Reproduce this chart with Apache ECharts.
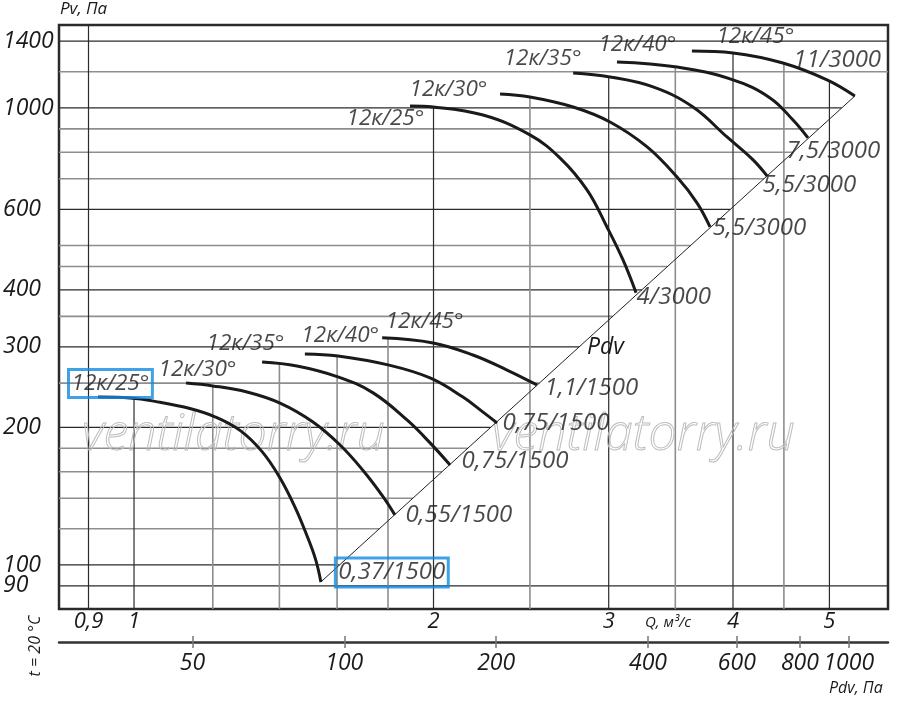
<!DOCTYPE html>
<html lang="ru">
<head>
<meta charset="UTF-8">
<title>12к — аэродинамические характеристики</title>
<script src="https://cdn.jsdelivr.net/npm/echarts@6/dist/echarts.min.js"></script>
<style>
  html, body { margin: 0; padding: 0; background: #fff; }
  #chart { width: 900px; height: 709px; }
</style>
</head>
<body>
<div id="chart"></div>
<script>
// кривые: [Q, м3/с ; Pv, Па], 1500 об/мин
const low25 = [[0.920, 233], [0.991, 232], [1.062, 227], [1.138, 220], [1.206, 211], [1.278, 197], [1.345, 177], [1.402, 155], [1.451, 134], [1.492, 116], [1.523, 102.5], [1.541, 91.8]];
const low30 = [[1.128, 250], [1.200, 246.5], [1.299, 239], [1.402, 226], [1.513, 205.5], [1.611, 183], [1.699, 161], [1.780, 141], [1.829, 128.7]];
const low35 = [[1.345, 278], [1.458, 272.5], [1.603, 258], [1.739, 238], [1.881, 207.6], [1.984, 185], [2.078, 165.5]];
const low40 = [[1.485, 289.5], [1.603, 286.6], [1.800, 274], [1.984, 256.6], [2.141, 233], [2.243, 216], [2.317, 204.5]];
const low45 = [[1.776, 314], [1.998, 306], [2.191, 288], [2.371, 267], [2.541, 247.7]];

// 3000 об/мин
const high25 = [[1.894, 1010], [1.998, 1005], [2.243, 965], [2.500, 873], [2.681, 777], [2.853, 662], [2.988, 549], [3.101, 465], [3.196, 394]];
const high30 = [[2.333, 1073], [2.500, 1057], [2.763, 1005], [3.009, 932], [3.279, 822], [3.514, 706], [3.680, 620], [3.793, 549]];
const high35 = [[2.763, 1193], [3.009, 1169], [3.324, 1112], [3.646, 1005], [3.945, 864], [4.190, 770], [4.328, 710]];
const high40 = [[3.058, 1261], [3.514, 1229], [4.000, 1152], [4.358, 1052], [4.596, 941], [4.758, 860]];
const high45 = [[3.637, 1332], [4.000, 1319], [4.490, 1254], [4.972, 1152], [5.303, 1062]];

const curveNames = ['12к/25°', '12к/30°', '12к/35°', '12к/40°', '12к/45°'];
const lowMotors = ['0,37/1500', '0,55/1500', '0,75/1500', '0,75/1500', '1,1/1500'];
const highMotors = ['4/3000', '5,5/3000', '5,5/3000', '7,5/3000', '11/3000'];

// линия Pdv (концы)
const pdvLine = [[1.541, 91.8], [5.303, 1062]];

// оси
const qTicks = [0.9, 1, 2, 3, 4, 5];
const qGrid = [0.9, 1, 1.2, 1.4, 1.6, 1.8, 2, 2.5, 3, 3.5, 4, 4.5, 5];
const pvTicks = [100, 200, 300, 400, 600, 1000, 1400];
const pvTicksLow = [90];
const pvGrid = [90, 100, 120, 140, 160, 180, 200, 250, 300, 350, 400, 450, 500, 600, 700, 800, 900, 1000, 1200, 1400];
const pdvTicks = [50, 100, 200, 400, 600, 800, 1000];

const Q_MIN = 0.8406, Q_MAX = 5.726;
const PV_MIN = 80.1, PV_MAX = 1519;
const PDV_MIN = 27.2, PDV_MAX = 1196;

const lowCurves = [low25, low30, low35, low40, low45];
const highCurves = [high25, high30, high35, high40, high45];
const allCurves = lowCurves.concat(highCurves);

// сдвиги подписей, px
const lowNameOffsets = [[-29, -13], [-27, -13], [-55, -18], [-3, -18], [4, -16]];
const highNameOffsets = [[-63, 13], [-90, -4], [-69, -14], [-18, -17], [25, -14]];
const lowMotorOffsets = [[15, -9], [11, 1], [12, -3], [6, 1], [8, 4]];
const highMotorOffsets = [[1, 5], [3, 2], [-4, 10], [-21, 14], [-61, -35]];

const FONT = '"Open Sans", "Noto Sans", sans-serif';
const INK = '#1a1a1a';
const L = Math.log10;

// где горизонталь упирается в линию Pdv
function diagQ(p) {
  const a = pdvLine[0], b = pdvLine[1];
  if (p < a[1] || p > b[1]) return Q_MAX;
  const t = (L(p) - L(a[1])) / (L(b[1]) - L(a[1]));
  return Math.pow(10, L(a[0]) + t * (L(b[0]) - L(a[0])));
}

// верхняя огибающая кривых — там начинаются вертикали
function envelope(q) {
  let best = 0;
  allCurves.forEach(c => {
    for (let i = 0; i < c.length - 1; i++) {
      if (q >= c[i][0] && q <= c[i + 1][0]) {
        const t = (L(q) - L(c[i][0])) / (L(c[i + 1][0]) - L(c[i][0]));
        best = Math.max(best, Math.pow(10, L(c[i][1]) + t * (L(c[i + 1][1]) - L(c[i][1]))));
      }
    }
  });
  return best > 0 ? best : PV_MAX;
}

const pvLabelled = pvTicks.concat(pvTicksLow);
const gridSegs = [];
pvGrid.forEach(p => gridSegs.push([Q_MIN, p, diagQ(p), p, pvLabelled.includes(p) ? 1 : 0]));
qGrid.forEach(q => gridSegs.push([q, PV_MIN, q, envelope(q), qTicks.includes(q) ? 1 : 0]));

function textLabel(point, text, off, extra) {
  return {
    value: point,
    label: Object.assign({
      show: true,
      position: [0, 0],
      align: 'left',
      verticalAlign: 'middle',
      offset: off,
      formatter: text,
      color: INK,
      fontFamily: FONT,
      fontStyle: 'italic',
      fontSize: 22.5
    }, extra || {})
  };
}

const blueBox = { borderColor: '#0f8be0', borderWidth: 3, padding: [3, 3, 2, 3] };
const labelData = [];
lowCurves.forEach((c, i) => {
  labelData.push(textLabel(c[0], curveNames[i], lowNameOffsets[i], i === 0 ? blueBox : null));
  labelData.push(textLabel(c[c.length - 1], lowMotors[i], lowMotorOffsets[i],
    Object.assign({ fontSize: 24 }, i === 0 ? blueBox : {})));
});
highCurves.forEach((c, i) => {
  labelData.push(textLabel(c[0], curveNames[i], highNameOffsets[i]));
  labelData.push(textLabel(c[c.length - 1], highMotors[i], highMotorOffsets[i], { fontSize: 24 }));
});

const axisText = { color: INK, fontFamily: FONT, fontStyle: 'italic', fontSize: 22, hideOverlap: false };
const fmt = v => String(+(+v).toPrecision(6)).replace('.', ',');

const curveSeries = allCurves.map((c, i) => ({
  type: 'line',
  name: curveNames[i % 5],
  data: c,
  smooth: 0.4,
  symbol: 'none',
  z: 4,
  lineStyle: { color: INK, width: 3 }
}));

function pvAxis(values) {
  return {
    type: 'log', min: PV_MIN, max: PV_MAX, position: 'left',
    axisLine: { show: false }, axisTick: { show: false }, splitLine: { show: false },
    axisLabel: Object.assign({ customValues: values, align: 'left', margin: 56, formatter: fmt }, axisText, { fontSize: 23 })
  };
}

const chart = echarts.init(document.getElementById('chart'));
chart.setOption({
  animation: false,
  backgroundColor: '#fff',
  grid: {
    left: 59, right: 12, top: 25, bottom: 100,
    show: true, borderColor: '#2a2a2a', borderWidth: 2.5
  },
  xAxis: [
    {
      type: 'log', min: Q_MIN, max: Q_MAX,
      axisLine: { show: false }, axisTick: { show: false }, splitLine: { show: false },
      axisLabel: Object.assign({ customValues: qTicks, margin: 2, formatter: fmt }, axisText)
    },
    {
      type: 'log', min: PDV_MIN, max: PDV_MAX, position: 'bottom', offset: 33,
      axisLine: { show: true, lineStyle: { color: '#333', width: 2.5 } },
      axisTick: { show: true, customValues: pdvTicks, length: 6, lineStyle: { color: '#777', width: 1.5 } },
      splitLine: { show: false },
      axisLabel: Object.assign({ customValues: pdvTicks, margin: 10, formatter: fmt }, axisText, { fontSize: 23 })
    },
    {
      type: 'log', min: PDV_MIN, max: PDV_MAX, position: 'bottom', offset: 33,
      axisLine: { show: false },
      axisTick: { show: true, inside: true, customValues: pdvTicks, length: 6, lineStyle: { color: '#777', width: 1.5 } },
      splitLine: { show: false },
      axisLabel: { show: false }
    }
  ],
  yAxis: [pvAxis(pvTicks), pvAxis(pvTicksLow)],
  graphic: [
    { type: 'text', left: 60, top: 1, style: { text: 'Pv, Па', font: 'italic 17px ' + FONT, fill: INK } },
    { type: 'text', left: 645, top: 615, style: { text: 'Q, м³/с', font: 'italic 15px ' + FONT, fill: INK } },
    { type: 'text', left: 829, top: 680, style: { text: 'Pdv, Па', font: 'italic 16px ' + FONT, fill: INK } },
    { type: 'text', x: 35, y: 646, rotation: Math.PI / 2,
      style: { text: 't = 20 °C', align: 'center', verticalAlign: 'middle', font: 'italic 16px ' + FONT, fill: INK } },
    { type: 'text', x: 587, y: 347, z: 5,
      style: { text: 'Pdv', verticalAlign: 'middle', font: 'italic 23px ' + FONT, fill: INK } },
    { type: 'text', x: 82, y: 436, z: 3,
      style: { text: 'ventilatorry.ru', verticalAlign: 'middle', font: 'italic 300 50px ' + FONT,
        fill: 'rgba(255,255,255,0)', stroke: '#bdbdbd', lineWidth: 1 } },
    { type: 'text', x: 492, y: 436, z: 3,
      style: { text: 'ventilatorry.ru', verticalAlign: 'middle', font: 'italic 300 50px ' + FONT,
        fill: 'rgba(255,255,255,0)', stroke: '#bdbdbd', lineWidth: 1 } }
  ],
  series: [
    {
      type: 'custom',
      name: 'сетка',
      silent: true,
      clip: true,
      z: 1,
      dimensions: ['q1', 'p1', 'q2', 'p2', 'major'],
      encode: { x: [0, 2], y: [1, 3] },
      data: gridSegs,
      renderItem: function (params, api) {
        const a = api.coord([api.value(0), api.value(1)]);
        const b = api.coord([api.value(2), api.value(3)]);
        const major = api.value(4) === 1;
        return {
          type: 'line',
          shape: { x1: a[0], y1: a[1], x2: b[0], y2: b[1] },
          style: { stroke: major ? '#2b2b2b' : '#8e8e8e', lineWidth: major ? 1.2 : 1.6 }
        };
      }
    },
    {
      type: 'line',
      name: 'Pdv',
      data: pdvLine,
      symbol: 'none',
      z: 3,
      lineStyle: { color: '#222', width: 1 }
    }
  ].concat(curveSeries, [
    {
      type: 'scatter',
      name: 'подписи',
      silent: true,
      z: 6,
      symbolSize: 1,
      itemStyle: { color: 'rgba(0,0,0,0)' },
      data: labelData
    }
  ])
});
</script>
</body>
</html>
